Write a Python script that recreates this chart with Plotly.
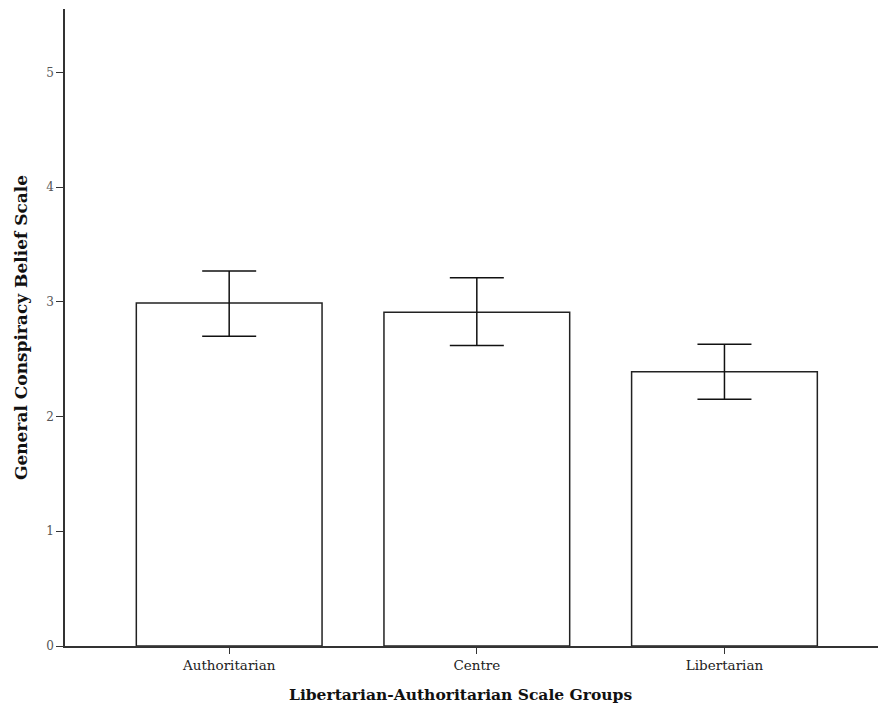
import plotly.graph_objects as go

# Group means with 95% confidence limits
groups = ["Authoritarian", "Centre", "Libertarian"]
means = [2.99, 2.91, 2.39]
ci_upper = [3.27, 3.21, 2.63]
ci_lower = [2.70, 2.62, 2.15]
y_ticks = [0, 1, 2, 3, 4, 5]

err_plus = [u - m for u, m in zip(ci_upper, means)]
err_minus = [m - l for m, l in zip(means, ci_lower)]

fig = go.Figure(
    go.Bar(
        x=list(range(len(groups))),
        y=means,
        width=0.75,
        marker=dict(color="white", line=dict(color="#222222", width=1.5)),
        error_y=dict(
            type="data",
            symmetric=False,
            array=err_plus,
            arrayminus=err_minus,
            color="#111111",
            thickness=1.5,
            width=27,
        ),
    )
)

serif = "DejaVu Serif, Liberation Serif, serif"

fig.update_layout(
    width=878,
    height=713,
    margin=dict(l=65, r=0, t=9, b=67),
    plot_bgcolor="white",
    paper_bgcolor="white",
    showlegend=False,
    font=dict(family=serif, color="#222222"),
    bargap=0.25,
)

fig.update_xaxes(
    range=[-0.663, 2.62],
    tickmode="array",
    tickvals=list(range(len(groups))),
    ticktext=groups,
    ticks="outside",
    ticklen=6,
    tickwidth=1.3,
    tickcolor="#333333",
    showline=True,
    linecolor="#333333",
    linewidth=1.5,
    showgrid=False,
    zeroline=False,
    tickfont=dict(family=serif, size=13.5, color="#222222"),
)

# x-axis title placed as an annotation, centred slightly left of the plot area
fig.add_annotation(
    text="<b>Libertarian-Authoritarian Scale Groups</b>",
    xref="paper",
    yref="paper",
    x=0.487,
    y=0,
    yshift=-48,
    xanchor="center",
    yanchor="middle",
    showarrow=False,
    font=dict(family=serif, size=15.5, color="#111111"),
)

fig.update_yaxes(
    range=[0, 5.553],
    tickmode="array",
    tickvals=y_ticks,
    ticks="outside",
    ticklen=7,
    tickwidth=1.3,
    tickcolor="#333333",
    showline=True,
    linecolor="#333333",
    linewidth=1.5,
    showgrid=False,
    zeroline=False,
    tickfont=dict(family=serif, size=12, color="#555555"),
    title=dict(
        text="<b>General Conspiracy Belief Scale</b>",
        font=dict(family=serif, size=17, color="#111111"),
        standoff=14,
    ),
)

fig.write_html("out.html")
